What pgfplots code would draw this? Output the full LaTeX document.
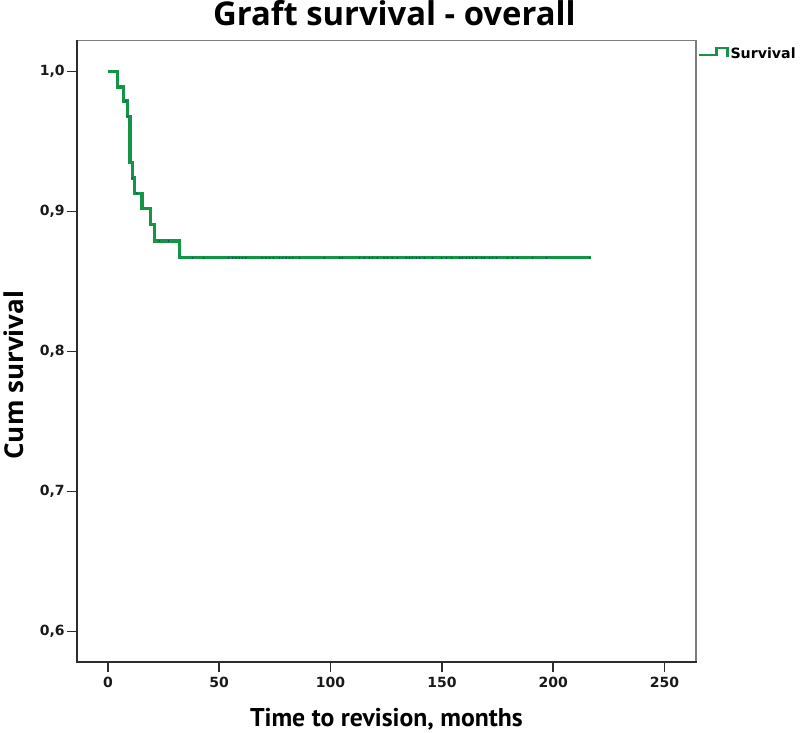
\documentclass[border=0pt]{standalone}
\usepackage{pgfplots}
\pgfplotsset{compat=1.18}
\usepackage{fontspec}
\setmainfont{Open Sans}
\newfontfamily\osans{Open Sans}
\newfontfamily\tickfont{DejaVu Sans}
\newfontfamily\xlabfont{PT Sans}
\definecolor{kmgreen}{RGB}{18,150,70}
\definecolor{censor}{RGB}{40,60,110}
\definecolor{framedark}{RGB}{45,45,45}
\definecolor{framegray}{RGB}{125,125,125}
\begin{document}
\begin{tikzpicture}[x=1pt,y=1pt]
\path[use as bounding box] (0,0) rectangle (800,733);
\begin{axis}[
  at={(76.7pt,70.7pt)}, anchor=south west,
  scale only axis, width=619.3pt, height=621.6pt,
  xmin=-14, xmax=264.1, ymin=0.5781, ymax=1.0221,
  axis line style={draw=none},
  tick pos=left, tick align=outside,
  major tick length=10pt,
  every tick/.style={framedark, line width=1.6pt},
  xtick={0,50,100,150,200,250},
  xticklabels={0,50,100,150,200,250},
  ytick={0.6,0.7,0.8,0.9,1.0},
  yticklabels={{0,6},{0,7},{0,8},{0,9},{1,0}},
  ticklabel style={font=\tickfont\bfseries\fontsize{14}{15}\selectfont, text=black!90},
  xticklabel style={yshift=-1pt},
  yticklabel style={xshift=1.5pt},
  title={Graft survival - overall},
  every axis title/.style={at={(axis description cs:0.5129,1.0246)}, anchor=base, font=\osans\bfseries\fontsize{32.8}{34}\selectfont},
  xlabel={Time to revision, months},
  every axis x label/.style={at={(axis description cs:0.5,-0.1025)}, anchor=base, font=\xlabfont\bfseries\fontsize{25.7}{27}\selectfont},
  ylabel={Cum survival},
  every axis y label/.style={at={(axis description cs:-0.0867,0.462)}, anchor=base, rotate=90, font=\osans\bfseries\fontsize{26}{28}\selectfont},
  legend style={at={(axis description cs:1,1)}, anchor=north west, draw=none, fill=none,
    inner sep=0pt, xshift=1.5pt, yshift=-5pt, font=\tickfont\bfseries\fontsize{14.2}{15}\selectfont,
    /tikz/every even column/.append style={column sep=2pt}},
  legend cell align=left,
  clip=false,
  after end axis/.code={
    \draw[framegray, line width=1.6pt] (rel axis cs:0,1) -- (rel axis cs:1,1) -- (rel axis cs:1,0);
    \draw[framedark, line width=1.6pt, line cap=rect] (rel axis cs:0,1) -- (rel axis cs:0,0) -- (rel axis cs:1,0);
  },
]
\addplot[kmgreen, line width=3.2pt, const plot, mark=none,
  legend image code/.code={
    \draw[kmgreen, line width=2.8pt] (0pt,-1pt) -- (17pt,-1pt) -- (17pt,6pt) -- (28pt,6pt) -- (28pt,-2.5pt);
  }] coordinates {
(0,1.000) (4.3,0.989) (6.9,0.979) (8.8,0.968) (9.9,0.935) (10.9,0.924)
(12.0,0.913) (15.3,0.902) (19.0,0.891) (21.1,0.879) (32.2,0.867) (216.8,0.867)
};
\addlegendentry{Survival}
\addplot[only marks, mark=*, mark size=0.6pt, censor, forget plot] coordinates {
(8.1,0.979) (9.0,0.968) (11.0,0.924) (13.0,0.913) (23.1,0.879) (27.2,0.879)
(38,0.867) (43,0.867) (54.2,0.867) (56,0.867) (57.5,0.867) (59,0.867) (60.5,0.867) (62,0.867)
(69.2,0.867) (71,0.867) (72.5,0.867) (74.3,0.867) (77,0.867) (78.5,0.867) (80,0.867) (81.5,0.867)
(83,0.867) (86,0.867) (97.2,0.867) (104,0.867) (105.3,0.867) (113,0.867) (115.2,0.867) (117.4,0.867)
(118.8,0.867) (121,0.867) (124,0.867) (125.5,0.867) (127.7,0.867) (130,0.867) (134,0.867) (135.4,0.867)
(136.7,0.867) (138.5,0.867) (139.9,0.867) (142.1,0.867) (145.7,0.867) (149.8,0.867) (152,0.867)
(154.3,0.867) (157.9,0.867) (159.2,0.867) (161,0.867) (162.4,0.867) (163.7,0.867) (165.5,0.867)
(167.8,0.867) (169.1,0.867) (171.4,0.867) (172.7,0.867) (174.5,0.867) (179.4,0.867) (181.7,0.867)
(184,0.867) (190.7,0.867) (197,0.867) (216.3,0.867)
};
\end{axis}
\end{tikzpicture}
\end{document}
